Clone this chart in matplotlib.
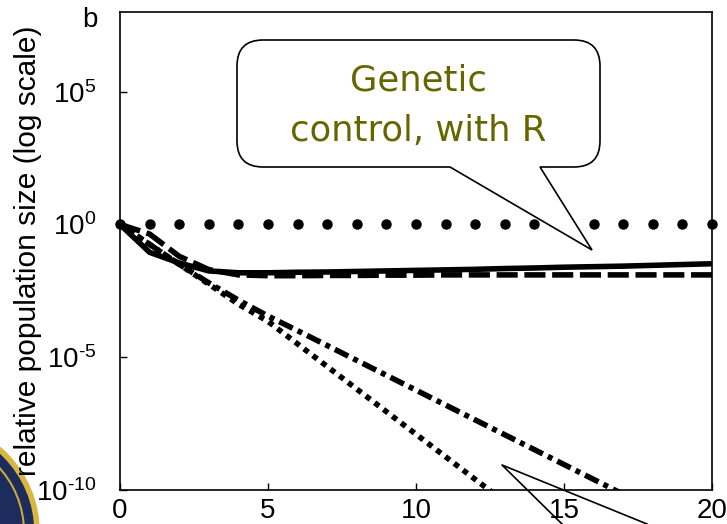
import numpy as np
import matplotlib
matplotlib.use("Agg")
import matplotlib.pyplot as plt
from matplotlib.path import Path
from matplotlib.patches import PathPatch, Circle
from matplotlib.transforms import Affine2D

plt.rcParams["font.family"] = ["Liberation Sans", "DejaVu Sans"]
plt.rcParams["mathtext.fontset"] = "custom"
plt.rcParams["mathtext.rm"] = "Liberation Sans"
plt.rcParams["mathtext.it"] = "Liberation Sans"

# generations
gens = np.arange(21)
# log10 relative population size
no_control = np.zeros(21)
with_r_solid = [0, -1.05, -1.45, -1.75, -1.82, -1.82, -1.8, -1.79, -1.77, -1.75, -1.73,
                -1.71, -1.69, -1.66, -1.64, -1.61, -1.59, -1.57, -1.54, -1.51, -1.48]
with_r_dashed = [0, -0.36, -1.2, -1.7, -1.9, -1.93, -1.93, -1.92, -1.92, -1.91, -1.91,
                 -1.9, -1.9, -1.9, -1.9, -1.9, -1.9, -1.9, -1.9, -1.9, -1.9]
dashdot_gens = np.arange(18)
dashdot_vals = [0, -0.75, -1.5, -2.2, -2.85, -3.45, -4.0, -4.56, -5.12, -5.68, -6.24,
                -6.8, -7.36, -7.92, -8.48, -9.04, -9.6, -10.16]
dotted_gens = np.arange(14)
dotted_vals = [0, -0.75, -1.5, -2.25, -3.0, -3.65, -4.5, -5.35, -6.2, -7.05, -7.9,
               -8.75, -9.6, -10.45]
ytick_vals = [1e-10, 1e-5, 1e0, 1e5]
ytick_exps = ["\u201010", "\u20105", "0", "5"]   # hyphen-style minus as in the original
xtick_vals = [0, 5, 10, 15, 20]

W, H = 727, 524
fig = plt.figure(figsize=(W / 100, H / 100), dpi=100)
ax = fig.add_axes([120 / W, 1 - 490 / H, 592 / W, 478 / H])

lw = 4.0
ax.plot(dotted_gens, 10.0 ** np.array(dotted_vals), color="k", lw=lw,
        ls=(0, (1, 1.0)), dash_capstyle="butt", zorder=3)
ax.plot(dashdot_gens, 10.0 ** np.array(dashdot_vals), color="k", lw=lw,
        ls=(0, (2.7, 1.0, 0.9, 1.0)), dash_capstyle="butt", zorder=3)
ax.plot(gens, 10.0 ** np.array(with_r_dashed), color="k", lw=lw,
        ls=(0, (3.8, 1.2)), dash_capstyle="butt", zorder=4)
ax.plot(gens, 10.0 ** np.array(with_r_solid), color="k", lw=lw, zorder=5)
ax.plot(gens, 10.0 ** no_control, ls="none", marker="o", ms=6.5, color="k",
        zorder=6, clip_on=False)

ax.set_yscale("log")
ax.set_ylim(1e-10, 1e8)
ax.set_xlim(0, 20)
ax.set_yticks(ytick_vals)
ax.set_yticklabels([r"$10^{%s}$" % e for e in ytick_exps])
ax.yaxis.set_minor_locator(matplotlib.ticker.NullLocator())
ax.set_xticks(xtick_vals)
ax.tick_params(direction="in", length=5, width=1, labelsize=20)
ax.tick_params(axis="y", pad=17)
ax.tick_params(axis="x", pad=6)
for s in ax.spines.values():
    s.set_linewidth(1.2)

fig.text(28 / W, 1 - 251 / H, "relative population size (log scale)", rotation=90,
         ha="center", va="center", fontsize=21.5)
fig.text(90 / W, 1 - 20 / H, "b", ha="center", va="center", fontsize=20)

# pixel coords (from top-left) -> figure
px = Affine2D().scale(1 / W, -1 / H).translate(0, 1) + fig.transFigure

# speech bubble
x0, x1, y0, y1, r = 237, 600, 40, 167, 26
verts = [(x0 + r, y0), (x1 - r, y0), (x1, y0), (x1, y0 + r), (x1, y1 - r), (x1, y1),
         (x1 - r, y1), (540, y1), (592, 250), (450, y1), (x0 + r, y1), (x0, y1),
         (x0, y1 - r), (x0, y0 + r), (x0, y0), (x0 + r, y0), (x0 + r, y0)]
codes = [Path.MOVETO, Path.LINETO, Path.CURVE3, Path.CURVE3, Path.LINETO, Path.CURVE3,
         Path.CURVE3, Path.LINETO, Path.LINETO, Path.LINETO, Path.LINETO, Path.CURVE3,
         Path.CURVE3, Path.LINETO, Path.CURVE3, Path.CURVE3, Path.CLOSEPOLY]
fig.add_artist(PathPatch(Path(verts, codes), facecolor="white", edgecolor="k",
                         lw=1.2, transform=px, zorder=10))
fig.text(418 / W, 1 - 106 / H, "Genetic\ncontrol, with R", ha="center", va="center",
         fontsize=25.5, color="#666600", family=["DejaVu Sans"],
         linespacing=1.6, zorder=11)

# second callout tail (cut off by the frame)
fig.add_artist(plt.Line2D([562, 502, 647], [524, 465, 524], color="k", lw=1.2,
                          transform=px, zorder=10))

# seal in the corner
fig.add_artist(Circle((-72, 532), 109, transform=px, facecolor="#1c2c5c",
                      edgecolor="#d8b640", lw=4, zorder=0))
fig.add_artist(Circle((-72, 532), 96, transform=px, facecolor="none",
                      edgecolor="#c9a93a", lw=1.5, zorder=0))

fig.savefig("out.png", dpi=100)
